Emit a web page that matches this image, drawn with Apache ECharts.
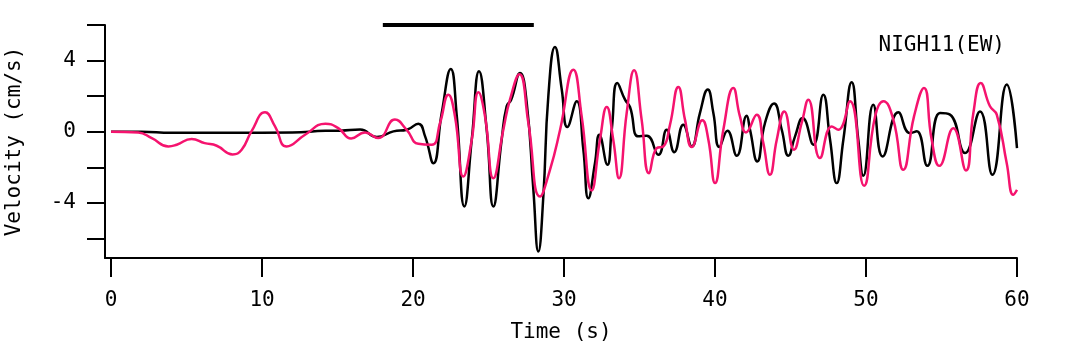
<!DOCTYPE html>
<html>
<head>
<meta charset="utf-8">
<title>NIGH11 (EW) velocity</title>
<script src="https://cdn.jsdelivr.net/npm/echarts@6/dist/echarts.min.js"></script>
<style>
  html, body { margin: 0; padding: 0; background: #fff; }
  #chart { width: 1077px; height: 344px; }
</style>
</head>
<body>
<div id="chart"></div>
<script>
// black trace (time in s, velocity in cm/s)
const blackTime = [0, 2, 4, 8, 12, 14.2, 15.2, 16.5, 17.6, 18.7, 19.6, 20.35, 20.8, 21.35, 21.9, 22.5, 22.9, 23.4, 23.89, 24.37,
  24.88, 25.32, 25.87, 26.2, 26.5, 27.09, 27.53, 27.97, 28.3, 28.63, 28.96, 29.4, 29.85, 30.22, 30.84, 31.28, 31.61, 32.05, 32.34, 32.87,
  33.16, 33.53, 34.04, 34.37, 34.92, 35.48, 36.25, 36.8, 37.3, 37.9, 38.46, 39.0, 39.52, 39.89, 40.29, 40.82, 41.44, 42.1, 42.32, 42.8,
  43.31, 43.91, 44.42, 44.86, 45.3, 45.81, 46.51, 47.17, 47.62, 48.06, 48.5, 49.05, 49.49, 49.82, 50.48, 51.1, 52.14, 52.91, 53.36, 54.06,
  54.9, 55.56, 56.56, 57.55, 58.37, 59.32, 60];
const blackVel = [0, 0, -0.06, -0.06, -0.05, 0.05, 0.06, 0.12, -0.3, 0.02, 0.11, 0.45, -0.26, -1.77, 1.05, 3.53, 0.86, -4.2, -0.45, 3.4,
  0.11, -4.2, -0.45, 1.43, 1.8, 3.3, 1.62, -3.27, -6.74, -3.64, 1.99, 4.77, 2.37, 0.26, 1.71, -1.01, -3.74, -1.77, -0.17, -1.86,
  0.11, 2.74, 1.8, 1.39, -0.26, -0.23, -1.3, 0.11, -1.15, 0.39, -0.83, 1.05, 2.37, 1.05, -0.86, 0.06, -1.35, 0.9, 0.11, -1.67,
  0.49, 1.58, 0.11, -1.35, -0.26, 0.77, -0.73, 2.08, -0.45, -2.89, -0.45, 2.78, -0.45, -2.48, 1.52, -1.39, 1.09, -0.08, 0.02, -1.92,
  1.05, 0.96, -1.2, 1.14, -2.42, 2.65, -0.92];

// pink trace
const pinkTime = [0, 1.8, 2.7, 3.8, 4.35, 5.34, 6.2, 7.0, 8.05, 8.65, 9.3, 10.2, 10.86, 11.63, 12.85, 14.2, 15.05, 15.9, 16.82, 17.7,
  18.8, 19.58, 20.35, 21.24, 21.79, 22.34, 22.78, 23.33, 23.89, 24.33, 24.77, 25.32, 25.98, 26.42, 27.05, 27.64, 28.41, 29.07, 29.74, 30.62,
  31.17, 31.83, 32.38, 32.83, 33.26, 33.64, 34.15, 34.64, 35.14, 35.63, 36.14, 36.58, 37.02, 37.57, 38.01, 38.46, 39.16, 39.56, 40.0, 40.55,
  41.21, 41.65, 42.05, 42.76, 43.2, 43.64, 44.09, 44.59, 45.23, 45.74, 46.18, 46.95, 47.73, 48.17, 48.94, 49.87, 50.6, 51.15, 51.81, 52.47,
  53.18, 53.84, 54.35, 54.86, 55.78, 56.62, 57.11, 57.6, 58.21, 58.66, 59.32, 59.75, 60];
const pinkVel = [0, -0.04, -0.36, -0.83, -0.73, -0.41, -0.64, -0.79, -1.28, -1.01, 0.02, 1.09, 0.3, -0.83, -0.17, 0.45, 0.2, -0.38, -0.04, -0.36,
  0.68, 0.11, -0.68, -0.73, 0.49, 2.08, 0.86, -2.52, -0.45, 2.22, 0.86, -2.61, 0.11, 1.8, 3.23, 0.49, -3.64, -2.14, 0.11, 3.49,
  0.86, -3.3, -0.45, 1.39, -0.45, -2.61, 1.05, 3.45, 0.68, -2.33, -0.92, -0.83, 0.4, 2.52, 0.68, -0.86, 0.64, -0.45, -2.89, 0.11,
  2.46, 0.86, -0.04, 0.96, -0.64, -2.42, -0.45, 1.14, -1.01, 0.49, 1.8, -1.48, 0.3, 0.11, 1.71, -3.04, 0.86, 1.71, 0.68, -2.14,
  0.86, 2.46, -0.45, -1.92, 0.2, -2.18, 1.05, 2.74, 1.43, 0.96, -1.77, -3.55, -3.27];

// thick bar at the top of the plot
const barTime = [18, 28];
const barLevel = [6, 6];

const xTicks = [0, 10, 20, 30, 40, 50, 60];
const yTicks = [-6, -4, -2, 0, 2, 4, 6];
const yLabels = [-4, 0, 4];

const font = 'DejaVu Sans Mono';
const zip = (a, b) => a.map((t, i) => [t, b[i]]);

const chart = echarts.init(document.getElementById('chart'));
chart.setOption({
  animation: false,
  backgroundColor: '#fff',
  grid: { left: 105, right: 60, top: 25, bottom: 86, outerBoundsMode: 'none' },
  graphic: [{
    type: 'text',
    right: 72,
    top: 35,
    style: { text: 'NIGH11(EW)', font: '21px "' + font + '"', fill: '#000' }
  }],
  xAxis: {
    type: 'value',
    min: -0.4,
    max: 60,
    name: 'Time (s)',
    nameLocation: 'middle',
    nameGap: 64,
    nameTextStyle: { fontFamily: font, fontSize: 21, color: '#000' },
    splitLine: { show: false },
    axisLine: { onZero: false, lineStyle: { color: '#000', width: 2 } },
    axisTick: { customValues: xTicks, length: 19, lineStyle: { color: '#000', width: 2 } },
    axisLabel: { customValues: xTicks, margin: 32, fontFamily: font, fontSize: 21, color: '#000' }
  },
  yAxis: {
    type: 'value',
    min: -7.1,
    max: 6,
    name: 'Velocity (cm/s)',
    nameLocation: 'middle',
    nameGap: 80,
    nameTextStyle: { fontFamily: font, fontSize: 21, color: '#000' },
    splitLine: { show: false },
    axisLine: { show: true, onZero: false, lineStyle: { color: '#000', width: 2 } },
    axisTick: { show: true, customValues: yTicks, length: 18, lineStyle: { color: '#000', width: 2 } },
    axisLabel: { customValues: yLabels, margin: 29, fontFamily: font, fontSize: 21, color: '#000' }
  },
  series: [
    {
      type: 'line',
      data: zip(blackTime, blackVel),
      showSymbol: false,
      smooth: 0.5,
      lineStyle: { color: '#000', width: 2.5 }
    },
    {
      type: 'line',
      data: zip(pinkTime, pinkVel),
      showSymbol: false,
      smooth: 0.5,
      lineStyle: { color: '#f5136e', width: 2.5 }
    },
    {
      type: 'line',
      data: zip(barTime, barLevel),
      showSymbol: false,
      clip: false,
      lineStyle: { color: '#000', width: 4 }
    }
  ]
});
</script>
</body>
</html>
